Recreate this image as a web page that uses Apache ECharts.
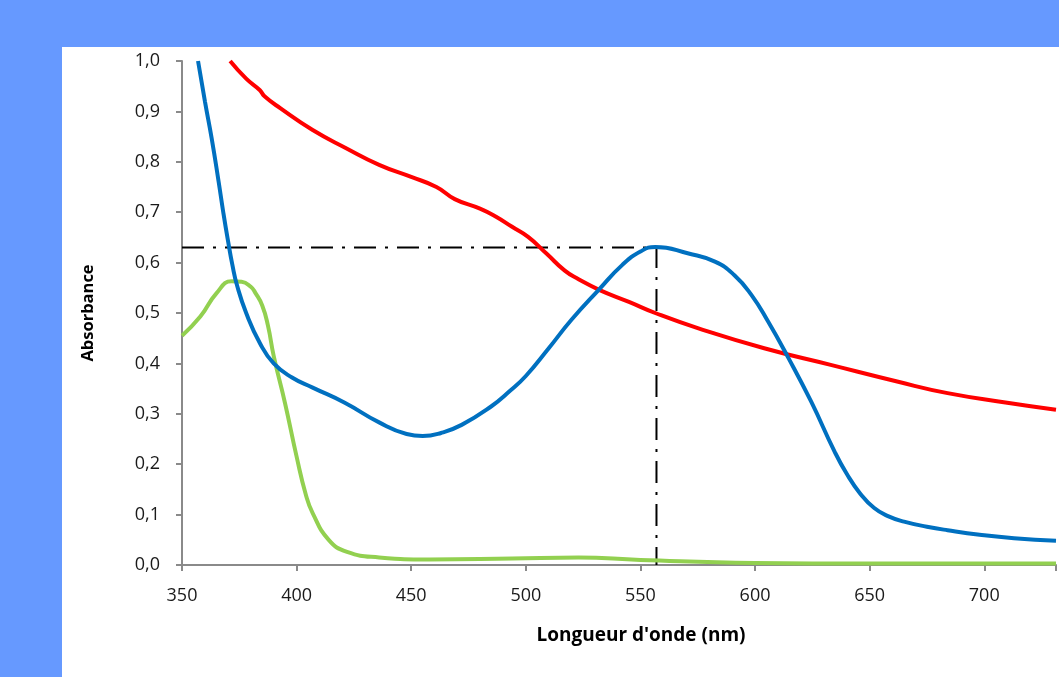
<!DOCTYPE html>
<html>
<head>
<meta charset="utf-8">
<script src="https://cdn.jsdelivr.net/npm/echarts@6/dist/echarts.min.js"></script>
<style>
html,body{margin:0;padding:0;width:1059px;height:677px;overflow:hidden;background:#6699FF;}
#panel{position:absolute;left:62px;top:47px;width:997px;height:630px;background:#ffffff;}
#chart{position:absolute;left:0;top:0;width:1059px;height:677px;}
</style>
</head>
<body>
<div id="panel"></div>
<div id="chart"></div>
<script>
// Wavelength (nm), absorbance pairs
const blueCurve = [
  [357,1.00],[360,0.92],[363,0.845],[366,0.76],[368,0.70],[370,0.645],[372,0.595],[374,0.555],
  [378,0.50],[384,0.44],[390,0.40],[398,0.372],[407,0.352],[421,0.322],[436,0.283],[448,0.260],
  [455,0.256],[463,0.262],[472,0.278],[485,0.315],[493,0.345],[500,0.375],[510,0.43],
  [520,0.487],[532,0.547],[542,0.595],[550,0.622],[556.5,0.631],[571,0.618],[582.5,0.602],
  [591,0.575],[598.4,0.536],[605.7,0.483],[614.3,0.413],[624.5,0.324],[634.6,0.226],
  [640,0.181],[646,0.141],[652,0.113],[658,0.097],[665,0.086],[675,0.076],[684,0.069],
  [698,0.060],[713,0.053],[731.3,0.048]
];
const redCurve = [
  [371,1.00],[378,0.965],[384,0.942],[386,0.93],[393,0.906],[407,0.863],[421.6,0.827],
  [436,0.794],[450,0.770],[461,0.750],[469,0.726],[480,0.707],[487,0.691],[494,0.671],
  [501,0.651],[509,0.618],[517,0.584],[523,0.567],[532,0.546],[545,0.522],[557,0.499],
  [575,0.470],[604,0.430],[633,0.397],[662,0.364],[684,0.341],[710,0.322],[731.3,0.308]
];
const greenCurve = [
  [350,0.455],[358,0.493],[365,0.539],[371.6,0.563],[376,0.562],[380,0.552],[382,0.54],
  [385,0.515],[387.5,0.475],[390,0.415],[395,0.32],[400,0.215],[404,0.14],[407,0.103],
  [414,0.05],[422,0.026],[436,0.015],[458,0.011],[494,0.013],[523,0.015],[550,0.010],
  [600,0.004],[650,0.003],[731.3,0.003]
];
const guideLine = [[350,0.63],[557,0.63],[557,0]];
const xTicks = [350,400,450,500,550,600,650,700];
const yTitle = 'Absorbance';
const xTitle = "Longueur d'onde (nm)";

const chart = echarts.init(document.getElementById('chart'), null, {renderer:'canvas'});
const axisGray = '#8a8a8a';
const labelFont = {fontFamily:'Open Sans', fontSize:18, color:'#1a1a1a'};
chart.setOption({
  backgroundColor: 'transparent',
  animation: false,
  grid: {left:182, top:61, right:0, bottom:112, containLabel:false},
  xAxis: {
    type:'value', min:350, max:731.3, interval:50,
    axisLine:{show:true, lineStyle:{color:axisGray, width:2}},
    axisTick:{show:true, length:6, lineStyle:{color:axisGray, width:2}},
    splitLine:{show:false},
    axisLabel:Object.assign({margin:22, formatter:v => xTicks.includes(v) ? String(v) : ''}, labelFont)
  },
  yAxis: {
    type:'value', min:0, max:1, interval:0.1,
    name:yTitle, nameLocation:'middle', nameRotate:90, nameGap:85,
    nameTextStyle:{fontFamily:'Open Sans', fontWeight:'bold', fontSize:16.5, color:'#000'},
    axisLine:{show:true, lineStyle:{color:axisGray, width:2}},
    axisTick:{show:true, length:6, lineStyle:{color:axisGray, width:2}},
    splitLine:{show:false},
    axisLabel:Object.assign({margin:22, formatter:v => v.toFixed(1).replace('.', ',')}, labelFont)
  },
  graphic: [{
    type:'text', x:641, y:636,
    style:{text:xTitle, textAlign:'center', textVerticalAlign:'middle',
      font:'bold 19px "Open Sans"', fill:'#000'}
  }],
  series: [
    {type:'line', data:guideLine, showSymbol:false, z:1,
     lineStyle:{color:'#000', width:2, type:[22,9,3,9]}},
    {type:'line', data:redCurve, smooth:true, showSymbol:false, clip:true,
     lineStyle:{color:'#FF0000', width:4}},
    {type:'line', data:greenCurve, smooth:true, showSymbol:false, clip:true,
     lineStyle:{color:'#92D050', width:4}},
    {type:'line', data:blueCurve, smooth:true, showSymbol:false, clip:true,
     lineStyle:{color:'#0070C0', width:4}}
  ]
});
</script>
</body>
</html>
